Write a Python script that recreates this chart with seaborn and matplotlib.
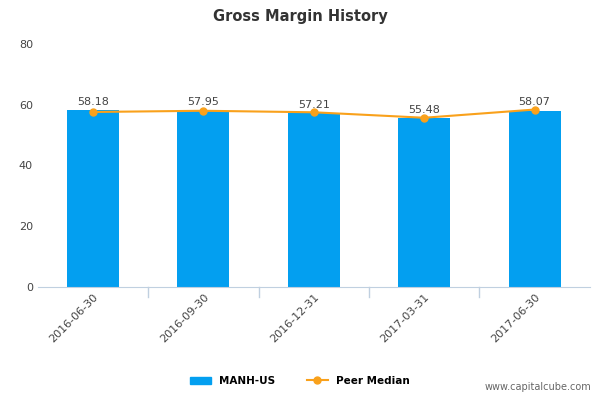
import matplotlib
matplotlib.use("Agg")
import matplotlib.pyplot as plt
import seaborn as sns
import pandas as pd
from matplotlib.lines import Line2D
from matplotlib.patches import Patch

dates = ["2016-06-30", "2016-09-30", "2016-12-31", "2017-03-31", "2017-06-30"]
manh = [58.18, 57.95, 57.21, 55.48, 58.07]
peer = [57.6, 58.0, 57.5, 55.7, 58.4]

df = pd.DataFrame({"date": dates, "manh": manh, "peer": peer})

fig = plt.figure(figsize=(6, 4), dpi=100)
ax = fig.add_axes([0.063, 0.283, 0.92, 0.607])
sns.barplot(data=df, x="date", y="manh", color="#039ff0", saturation=1, width=0.47, ax=ax)
ax.plot(range(len(dates)), peer, color="#f9a11b", lw=1.5, marker="o", ms=5, zorder=5)
for i, v in enumerate(manh):
    ax.text(i, v + 1.2, f"{v:.2f}", ha="center", va="bottom", fontsize=8, color="#444444")

ax.set_ylim(0, 80)
ax.set_xlim(-0.5, 4.5)
ax.set_yticks([0, 20, 40, 60, 80])
ax.set_xlabel("")
ax.set_ylabel("")
for s in ["top", "right", "left"]:
    ax.spines[s].set_visible(False)
ax.spines["bottom"].set_color("#c0d0e0")
ax.tick_params(axis="y", length=0, labelsize=8, colors="#444444")
ax.tick_params(axis="x", labelsize=8, colors="#444444", color="#c0d0e0", length=0)
for b in [0.5, 1.5, 2.5, 3.5]:
    ax.axvline(b, ymin=-0.04, ymax=0, color="#c0d0e0", lw=1, clip_on=False)
plt.setp(ax.get_xticklabels(), rotation=45, ha="right", rotation_mode="anchor")

fig.text(0.5, 0.96, "Gross Margin History", ha="center", va="center",
         fontsize=10.5, fontweight="bold", color="#333333")
handles = [Patch(color="#039ff0"),
           Line2D([0], [0], color="#f9a11b", marker="o", ms=5, lw=1.5)]
fig.legend(handles, ["MANH-US", "Peer Median"], loc="center", bbox_to_anchor=(0.5, 0.048),
           ncol=2, frameon=False, prop={"size": 7.5, "weight": "bold"}, handlelength=2,
           columnspacing=3)
fig.text(0.985, 0.02, "www.capitalcube.com", ha="right", va="bottom", fontsize=7, color="#666666")
fig.savefig("out.png", dpi=100)
